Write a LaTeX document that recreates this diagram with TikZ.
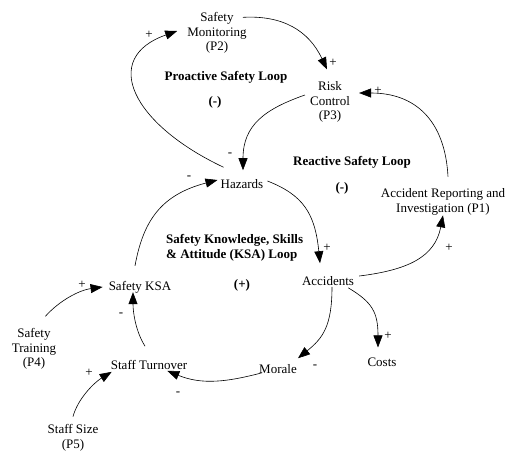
\documentclass[tikz,border=0pt]{standalone}
\usepackage{fontspec}
\setmainfont{Liberation Serif}
\usetikzlibrary{arrows.meta}

\begin{document}
\begin{tikzpicture}[x=1pt,y=-1pt,
    var/.style={inner sep=0pt,align=center,font=\fontsize{13}{14.5}\selectfont},
    loopname/.style={inner sep=0pt,align=center,font=\fontsize{13}{14.5}\selectfont\bfseries},
    sign/.style={inner sep=0pt,font=\fontsize{13}{14.5}\selectfont},
    link/.style={line width=0.6pt,-{Triangle[length=12pt,width=9pt]}}]
    \useasboundingbox (0,0) rectangle (506,453);

    % Variables
    \node[var] (mon) at (217,33) {Safety\\Monitoring\\(P2)};
    \node[var] (risk) at (330,102) {Risk\\Control\\(P3)};
    \node[var] (haz) at (242,184) {Hazards};
    \node[var] (accrep) at (443,202) {Accident Reporting and\\Investigation (P1)};
    \node[var] (acc) at (328,281) {Accidents};
    \node[var] (ksa) at (140,287) {Safety KSA};
    \node[var] (train) at (34,349) {Safety\\Training\\(P4)};
    \node[var] (turn) at (149,365) {Staff Turnover};
    \node[var] (morale) at (278,369) {Morale};
    \node[var] (costs) at (382,362) {Costs};
    \node[var] (size) at (73,438) {Staff Size\\(P5)};

    % Loop names
    \node[loopname] (proloop) at (226,77) {Proactive Safety Loop};
    \node[loopname] (prosign) at (215,102) {(-)};
    \node[loopname] (reloop) at (352,162) {Reactive Safety Loop};
    \node[loopname] (resign) at (342,188) {(-)};
    \node[loopname,anchor=west,align=left] (ksaloop) at (166,248) {Safety Knowledge, Skills\\\& Attitude (KSA) Loop};
    \node[loopname] (ksasign) at (242,285) {(+)};

    % Proactive loop
    \draw[link] ([shift={(3,-12)}]haz.north west) .. controls (132,124) and (100,58) .. ([shift={(-10,-2)}]mon.west);
    \draw[link] ([shift={(-4,5)}]mon.north east) .. controls (283,15) and (309,31) .. ([shift={(-3,-12)}]risk.north);
    \draw[link] ([shift={(-5,-7)}]risk.west) .. controls (265,109) and (243,125) .. ([shift={(1,-9)}]haz.north);

    % Reactive loop
    \draw[link] ([shift={(4,-3)}]haz.east) .. controls (303,195) and (315,213) .. ([shift={(-8,-13)}]acc.north);
    \draw[link] ([shift={(5,-5)}]acc.east) .. controls (408,270) and (435,257) .. (accrep.south);
    \draw[link] ([shift={(5,-12)}]accrep.north) .. controls (445,120) and (415,93) .. ([shift={(9,-9)}]risk.east);

    % KSA loop
    \draw[link] ([shift={(4,1)}]acc.south) .. controls (332,326) and (323,338) .. ([shift={(1,-6)}]morale.north east);
    \draw[link] ([shift={(3,-1)}]morale.south west) .. controls (227,382) and (202,385) .. ([shift={(-20,1)}]turn.south east);
    \draw[link] ([shift={(-4,-14)}]turn.north) .. controls (136,332) and (133,313) .. ([shift={(-7,-1)}]ksa.south);
    \draw[link] ([shift={(-5,-15)}]ksa.north) .. controls (143,222) and (160,195) .. ([shift={(-3,-4)}]haz.west);

    % Outside influences
    \draw[link] ([shift={(-6,2)}]acc.south east) .. controls (372,302) and (378,312) .. ([shift={(-4,-10)}]costs.north);
    \draw[link] ([shift={(-11,-12)}]train.north east) .. controls (60,300) and (80,290) .. ([shift={(-6,0)}]ksa.west);
    \draw[link] ([shift={(0,-8)}]size.north) .. controls (78,398) and (95,382) .. ([shift={(1,2)}]turn.south west);

    % Link signs
    \node[sign] (s1) at (149,35) {+};
    \node[sign] (s2) at (333,63) {+};
    \node[sign] (s3) at (230,155) {-};
    \node[sign] (s4) at (378,91) {+};
    \node[sign] (s5) at (327,248) {+};
    \node[sign] (s6) at (449,248) {+};
    \node[sign] (s7) at (388,336) {+};
    \node[sign] (s8) at (315,367) {-};
    \node[sign] (s9) at (178,394) {-};
    \node[sign] (s10) at (121,315) {-};
    \node[sign] (s11) at (189,178) {-};
    \node[sign] (s12) at (82,285) {+};
    \node[sign] (s13) at (89,373) {+};
\end{tikzpicture}
\end{document}
